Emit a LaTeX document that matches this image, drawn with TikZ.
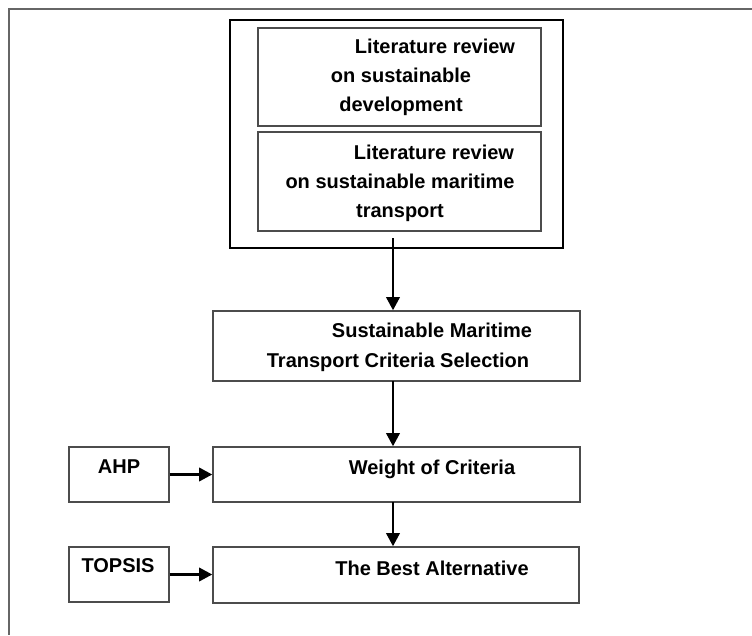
\documentclass[tikz,border=0pt]{standalone}
\usepackage{fontspec}
\setmainfont{Liberation Sans}
\usetikzlibrary{arrows.meta,fit}
\newcommand{\firstind}{\hspace*{51pt}}

\begin{document}
\begin{tikzpicture}[x=0.75pt,y=-0.75pt,
    box/.style={draw=black!70, line width=1pt, inner sep=0pt},
    bigbox/.style={draw=black, line width=1.6pt, inner sep=0pt},
    txt/.style={font=\bfseries\fontsize{15}{21.4}\selectfont, align=center, anchor=base, inner sep=0pt},
    flow/.style={line width=2.2pt, -{Triangle[length=10pt,width=10pt]}}]
        \useasboundingbox (0,0) rectangle (752,635);
        \draw[black!60, line width=0.9pt] (752,9) -- (9,9) -- (9,635);

        % literature block (text anchored on its last line)
        \node[bigbox, fit={(230,20) (563,248)}] (litbox) {};
        \node[box, fit={(258,28) (541,126)}] (litdev) {};
        \node[box, fit={(258,132) (541,231)}] (litmar) {};
        \node[txt] (litdevtext) at (401,111) {\firstind Literature review\\on sustainable\\development};
        \node[txt] (litmartext) at (400,217) {\firstind Literature review\\on sustainable maritime\\transport};

        % main chain
        \node[box, fit={(213,311) (580,381)}] (criteria) {};
        \node[txt, font=\bfseries\fontsize{15}{22.5}\selectfont] (criteriatext) at (398,367) {\firstind Sustainable Maritime\\Transport Criteria Selection};
        \node[box, fit={(213,447) (580,502)}] (weight) {};
        \node[txt] (weighttext) at (432,474) {Weight of Criteria};
        \node[box, fit={(213,547) (579,603)}] (best) {};
        \node[txt] (besttext) at (432,575) {The Best Alternative};

        % methods
        \node[box, fit={(69,447) (169,502)}] (ahp) {};
        \node[txt] (ahptext) at (119,473) {AHP};
        \node[box, fit={(69,547) (169,602)}] (topsis) {};
        \node[txt] (topsistext) at (118,572) {TOPSIS};

        \coordinate (down1) at (393,238);
        \coordinate (down2) at (393,381);
        \coordinate (down3) at (393,502);
        \draw[flow] (down1) -- (down1 |- criteria.north);
        \draw[flow] (down2) -- (down2 |- weight.north);
        \draw[flow] (down3) -- (down3 |- best.north);
        \draw[flow] (ahp.east) -- (ahp.east -| weight.west);
        \draw[flow] (topsis.east) -- (topsis.east -| best.west);
    \end{tikzpicture}
\end{document}
